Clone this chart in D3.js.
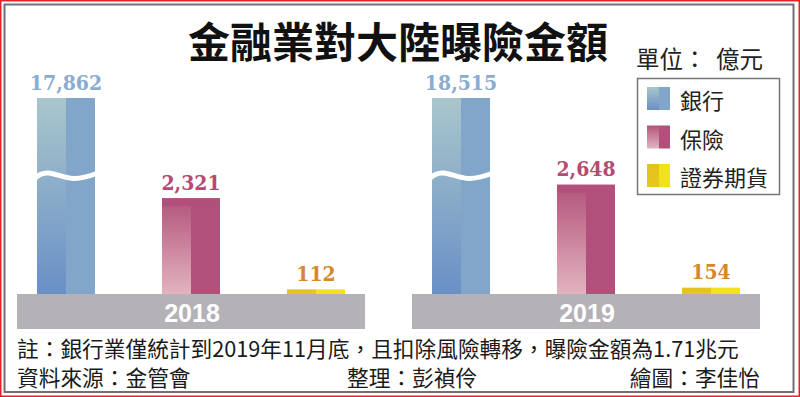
<!DOCTYPE html>
<html>
<head>
<meta charset="utf-8">
<script src="https://cdn.jsdelivr.net/npm/d3@7"></script>
<style>
  html, body { margin: 0; padding: 0; background: #fff; }
  svg { display: block; }
</style>
</head>
<body>
<script>

// data (unit: 億元)
var years = ["2018", "2019"];
var sectors = ["銀行", "保險", "證券期貨"];
var bank = [17862, 18515];
var insurance = [2321, 2648];
var securities = [112, 154];
var valueLabels = [["17,862", "2,321", "112"], ["18,515", "2,648", "154"]];

var title = "金融業對大陸曝險金額";
var unitParts = ["單位：", "億元"];
var note = "註：銀行業僅統計到2019年11月底，且扣除風險轉移，曝險金額為1.71兆元";
var source = "資料來源：金管會";
var editor = "整理：彭禎伶";
var artist = "繪圖：李佳怡";

var w = 800, h = 397;
var baseTop = 294, baseH = 35;

var cjk = "'Noto Sans CJK TC', 'Noto Sans CJK SC', sans-serif";

// colours per sector: left half gradient top/bottom, right half, label
var colors = {
    "銀行":   { top: "#a9c6cb", bottom: "#6990c6", right: "#82a6ca", label: "#8aacd0" },
    "保險":   { top: "#b3547a", bottom: "#e2b3c0", right: "#b1507a", label: "#b64a72" },
    "證券期貨": { top: "#e2c21c", bottom: "#e8c81e", right: "#f2e21c", label: "#d7882b" }
};

var svg = d3.select("body").append("svg")
    .attr("width", w)
    .attr("height", h);

var defs = svg.append("defs");
sectors.forEach(function(s, i) {
    var g = defs.append("linearGradient")
        .attr("id", "grad" + i)
        .attr("x1", 0).attr("y1", 0).attr("x2", 0).attr("y2", 1);
    g.append("stop").attr("offset", "0%").attr("stop-color", colors[s].top);
    g.append("stop").attr("offset", "100%").attr("stop-color", colors[s].bottom);
});

// frame
svg.append("rect")
    .attr("x", 0.75).attr("y", 0.75)
    .attr("width", w - 1.5).attr("height", h - 1.5)
    .attr("fill", "none").attr("stroke", "#e3222a").attr("stroke-width", 1.5);
svg.append("rect")
    .attr("x", 4.5).attr("y", 4.5)
    .attr("width", 789).attr("height", 387.5)
    .attr("fill", "none").attr("stroke", "#707074").attr("stroke-width", 2);

// title
svg.append("text")
    .attr("x", 398).attr("y", 39)
    .attr("text-anchor", "middle")
    .attr("dominant-baseline", "central")
    .style("font-family", cjk)
    .style("font-weight", "bold")
    .style("font-size", "42px")
    .attr("fill", "#111")
    .text(title);

// scales
var groupX = d3.scaleBand()
    .domain(years)
    .range([17, 760])
    .paddingInner(0.119);

var barX = d3.scaleBand()
    .domain(sectors)
    .range([0, groupX.bandwidth()])
    .paddingInner(0.536)
    .paddingOuter(0.16);

// broken axis: bank bars are clamped at the top
var y = d3.scaleLinear()
    .domain([0, 4750])
    .range([baseTop, 98])
    .clamp(true);

var rows = [];
years.forEach(function(yr, i) {
    rows.push({ year: yr, sector: "銀行", value: bank[i], label: valueLabels[i][0] });
    rows.push({ year: yr, sector: "保險", value: insurance[i], label: valueLabels[i][1] });
    rows.push({ year: yr, sector: "證券期貨", value: securities[i], label: valueLabels[i][2] });
});

// gray bases with year
var groups = svg.selectAll("g.year")
    .data(years)
    .enter()
    .append("g")
    .attr("class", "year")
    .attr("transform", function(d) { return "translate(" + groupX(d) + ",0)"; });

groups.append("rect")
    .attr("x", 0).attr("y", baseTop)
    .attr("width", groupX.bandwidth()).attr("height", baseH)
    .attr("fill", "#b4b2b7");

groups.append("text")
    .attr("x", groupX.bandwidth() / 2 + 1)
    .attr("y", baseTop + baseH / 2 + 1)
    .attr("text-anchor", "middle")
    .attr("dominant-baseline", "central")
    .style("font-family", "'Liberation Sans', Arial, sans-serif")
    .style("font-weight", "bold")
    .style("font-size", "25px")
    .attr("fill", "#fff")
    .text(function(d) { return d; });

// bars
var bars = svg.selectAll("g.bar")
    .data(rows)
    .enter()
    .append("g")
    .attr("class", "bar")
    .attr("transform", function(d) { return "translate(" + (groupX(d.year) + barX(d.sector)) + ",0)"; });

bars.append("rect")
    .attr("x", 0)
    .attr("y", function(d) { return y(d.value); })
    .attr("width", barX.bandwidth() / 2)
    .attr("height", function(d) { return baseTop - y(d.value); })
    .attr("fill", function(d) { return "url(#grad" + sectors.indexOf(d.sector) + ")"; });

bars.append("rect")
    .attr("x", barX.bandwidth() / 2)
    .attr("y", function(d) { return y(d.value); })
    .attr("width", barX.bandwidth() / 2)
    .attr("height", function(d) { return baseTop - y(d.value); })
    .attr("fill", function(d) { return colors[d.sector].right; });

// dark cap on insurance bars
bars.filter(function(d) { return d.sector == "保險"; })
    .append("rect")
    .attr("x", 0)
    .attr("y", function(d) { return y(d.value); })
    .attr("width", barX.bandwidth())
    .attr("height", 8)
    .attr("fill", colors["保險"].right);

// wave break on bank bars
var bw = barX.bandwidth();
var wave = d3.line().curve(d3.curveNatural);
bars.filter(function(d) { return d.sector == "銀行"; })
    .append("path")
    .attr("d", wave([[-3, 179], [bw * 0.2, 173], [bw * 0.62, 178.5], [bw + 3, 173]]))
    .attr("fill", "none")
    .attr("stroke", "#fff")
    .attr("stroke-width", 5);

// value labels
bars.append("text")
    .attr("x", bw / 2)
    .attr("y", function(d) { return y(d.value) - 16; })
    .attr("text-anchor", "middle")
    .attr("dominant-baseline", "central")
    .style("font-family", "'DejaVu Serif Condensed', 'DejaVu Serif', serif")
    .style("font-weight", "bold")
    .style("font-size", "21px")
    .attr("fill", function(d) { return colors[d.sector].label; })
    .text(function(d) { return d.label; });

// unit
svg.append("text")
    .attr("x", 636).attr("y", 58)
    .attr("dominant-baseline", "central")
    .style("font-family", cjk)
    .style("font-size", "23.5px")
    .attr("fill", "#222")
    .text(unitParts[0]);
svg.append("text")
    .attr("x", 763).attr("y", 58)
    .attr("text-anchor", "end")
    .attr("dominant-baseline", "central")
    .style("font-family", cjk)
    .style("font-size", "23.5px")
    .attr("fill", "#222")
    .text(unitParts[1]);

// legend
svg.append("rect")
    .attr("x", 637.5).attr("y", 78.5)
    .attr("width", 142).attr("height", 116)
    .attr("fill", "#fff").attr("stroke", "#76767a").attr("stroke-width", 1.5);

var legend = svg.selectAll("g.legend")
    .data(sectors)
    .enter()
    .append("g")
    .attr("class", "legend")
    .attr("transform", function(d, i) { return "translate(647," + (87 + i * 38.5) + ")"; });

legend.append("rect")
    .attr("width", 12).attr("height", 23)
    .attr("fill", function(d, i) { return "url(#grad" + i + ")"; });
legend.append("rect")
    .attr("x", 12)
    .attr("width", 11).attr("height", 23)
    .attr("fill", function(d) { return colors[d].right; });

legend.append("text")
    .attr("x", 33).attr("y", 12)
    .attr("dominant-baseline", "central")
    .style("font-family", cjk)
    .style("font-size", "22px")
    .attr("fill", "#222")
    .text(function(d) { return d; });

// footer
var foot = svg.append("g")
    .style("font-family", cjk)
    .style("font-size", "21.7px")
    .attr("fill", "#1a1a1a");

foot.append("text").attr("x", 17).attr("y", 347)
    .attr("dominant-baseline", "central").text(note);
foot.append("text").attr("x", 17).attr("y", 376)
    .attr("dominant-baseline", "central").text(source);
foot.append("text").attr("x", 347).attr("y", 376)
    .attr("dominant-baseline", "central").text(editor);
foot.append("text").attr("x", 760).attr("y", 376)
    .attr("text-anchor", "end")
    .attr("dominant-baseline", "central").text(artist);

</script>
</body>
</html>
